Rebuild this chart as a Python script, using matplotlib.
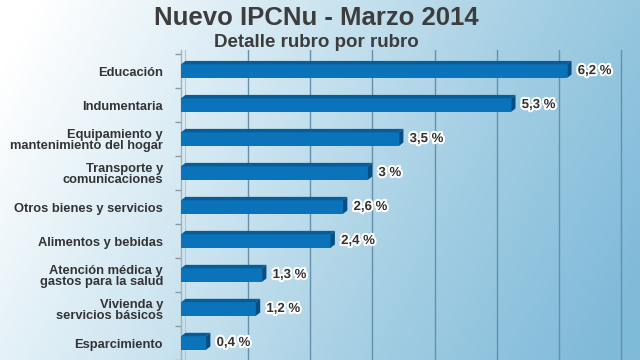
import numpy as np
import matplotlib
matplotlib.use("Agg")
import matplotlib.pyplot as plt
import matplotlib.patheffects as pe
from matplotlib.patches import Polygon
from matplotlib.colors import LinearSegmentedColormap

# datos
rubros = ['Educación', 'Indumentaria', 'Equipamiento y\nmantenimiento del hogar',
          'Transporte y\ncomunicaciones', 'Otros bienes y servicios', 'Alimentos y bebidas',
          'Atención médica y\ngastos para la salud', 'Vivienda y\nservicios básicos', 'Esparcimiento']
valores = [6.2, 5.3, 3.5, 3.0, 2.6, 2.4, 1.3, 1.2, 0.4]
etiquetas = ['6,2 %', '5,3 %', '3,5 %', '3 %', '2,6 %', '2,4 %', '1,3 %', '1,2 %', '0,4 %']

plt.rcParams['font.family'] = ['Liberation Sans', 'DejaVu Sans']

fig = plt.figure(figsize=(6.4, 3.6), dpi=100)

# fondo degradado
bg = fig.add_axes([0, 0, 1, 1], zorder=0)
xx, yy = np.meshgrid(np.linspace(0, 1, 256), np.linspace(0, 1, 256))
grad = np.clip(0.85 * xx + 0.25 * yy - 0.05, 0, 1)
cmap = LinearSegmentedColormap.from_list('fondo', ['#ffffff', '#d3e8f2', '#a5cfe4', '#7fbad9'])
bg.imshow(grad, cmap=cmap, aspect='auto', extent=[0, 1, 0, 1], origin='upper')
bg.axis('off')

ax = fig.add_axes([0.283, 0.0, 0.717, 0.861], zorder=1)
ax.set_facecolor('none')
y = np.arange(len(rubros))

# profundidad del efecto 3D
d, dy, h = 0.07, 0.1, 0.40

ax.barh(y, valores, height=h, color='#0b73b9', edgecolor='none', zorder=3)
for yi, v in zip(y, valores):
    arriba = Polygon([[0, yi - h / 2], [d, yi - h / 2 - dy], [v + d, yi - h / 2 - dy], [v, yi - h / 2]],
                     closed=True, facecolor='#085c98', edgecolor='none', zorder=3)
    lado = Polygon([[v, yi - h / 2], [v + d, yi - h / 2 - dy], [v + d, yi + h / 2 - dy], [v, yi + h / 2]],
                   closed=True, facecolor='#064f85', edgecolor='none', zorder=3)
    ax.add_patch(arriba)
    ax.add_patch(lado)

for yi, v, t in zip(y, valores, etiquetas):
    ax.text(v + 0.17, yi, t, va='center', ha='left', fontsize=9.5, fontweight='bold', color='#333333',
            zorder=4, path_effects=[pe.withStroke(linewidth=3, foreground='white')])

ax.set_xlim(0, 7.37)
ax.set_ylim(8.47, -0.62)
# lineas de la grilla sobre la pared del fondo
for g in np.arange(1, 8):
    ax.axvline(g + d, color='#6590ab', lw=1, zorder=1)
ax.axvline(d, color='#b5c4cd', lw=0.8, zorder=1)
ax.set_xticks([])

ax.set_yticks(y)
ax.set_yticklabels(rubros, fontsize=9.3, fontweight='bold', color='#333333', linespacing=0.95)
ax.set_yticks(np.arange(-0.5, len(rubros), 1), minor=True)
ax.tick_params(axis='y', which='major', length=0, pad=13)
ax.tick_params(axis='y', which='minor', length=4, color='#8a9aa5', width=1)
for s in ['top', 'right', 'bottom']:
    ax.spines[s].set_visible(False)
ax.spines['left'].set_color('#a3b0b8')
ax.spines['left'].set_linewidth(1.0)

fig.text(0.495, 0.931, 'Nuevo IPCNu - Marzo 2014', ha='center', va='baseline', fontsize=18.5,
         fontweight='bold', color='#3d3d3d')
fig.text(0.495, 0.869, 'Detalle rubro por rubro', ha='center', va='baseline', fontsize=13.5,
         fontweight='bold', color='#3d3d3d')

fig.savefig('out.png', dpi=100)
